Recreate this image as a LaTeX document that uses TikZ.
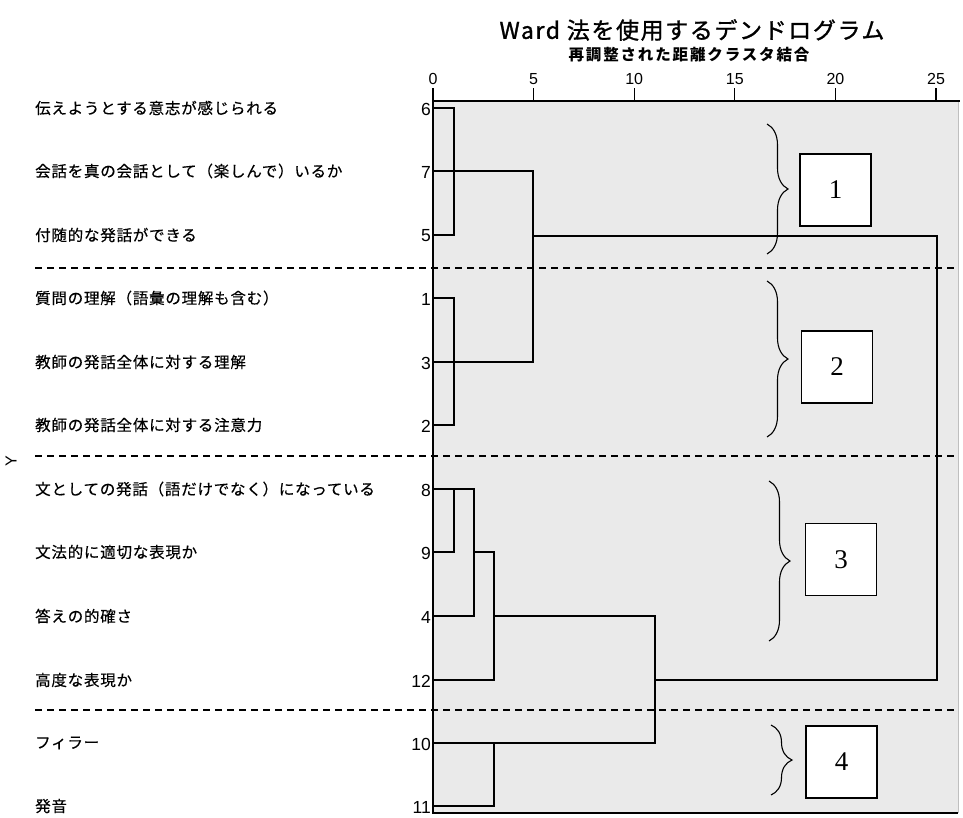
\documentclass[tikz,border=0pt]{standalone}
\usepackage{fontspec}
\setmainfont{Liberation Sans}
\newfontfamily\jplbl{Noto Sans CJK JP}[LetterSpace=5,FakeBold=0.4]
\newfontfamily\jpsub{Noto Sans CJK JP}[LetterSpace=12]
\newfontfamily\jptitle{Noto Sans CJK JP}[LetterSpace=7,FakeBold=1.2]
\newfontfamily\numserif{Liberation Serif}
\usetikzlibrary{decorations.pathreplacing}
\definecolor{plotbg}{RGB}{234,234,234}
\tikzset{
  lbl/.style={anchor=west, inner sep=0pt, font=\jplbl\fontsize{15.5}{17}\selectfont},
  rownum/.style={anchor=east, inner sep=0pt, font=\fontsize{17.5}{19}\selectfont},
  ticklbl/.style={anchor=south, inner sep=0pt, font=\fontsize{16}{18}\selectfont},
  dendro/.style={line width=1.8pt, line cap=rect},
  sep/.style={line width=1.1pt, dash pattern=on 7pt off 5pt},
  grp/.style={draw, line width=1.1pt, fill=white, minimum width=71pt, minimum height=72pt, inner sep=0pt, font=\numserif\fontsize{27}{29}\selectfont},
  bracedeco/.style={line width=1.1pt, decorate, decoration={brace, amplitude=21pt}}
}
\begin{document}
\begin{tikzpicture}[x=1pt,y=-1pt]
\useasboundingbox (0,0) rectangle (963,817);
\fill[white] (0,0) rectangle (963,817);
% plot area
\fill[plotbg] (433,101) rectangle (958,813);
\draw[gray!50, line width=0.8pt] (958,101) -- (958,813);
\draw[line width=1.8pt] (433,101) -- (960,101);
\draw[line width=1.8pt] (433,88) -- (433,813) -- (958,813);
% ticks and labels
\foreach \v in {5,10,15,20,25} {
  \draw[line width=1.3pt] ({433+\v*20.12},88) -- ({433+\v*20.12},101);
}
\foreach \v in {0,5,10,15,20,25} {
  \node[ticklbl] (t\v) at ({433+\v*20.12},85) {\v};
}
% titles
\node[inner sep=0pt, font=\jptitle\fontsize{23}{25}\selectfont] (title) at (692,30) {Ward 法を使用するデンドログラム};
\node[inner sep=0pt, font=\jpsub\bfseries\fontsize{15.5}{17}\selectfont] (sub) at (689,55) {再調整された距離クラスタ結合};
% row labels
\node[lbl] (l6) at (35,108) {伝えようとする意志が感じられる};
\node[lbl] (l7) at (35,171) {会話を真の会話として（楽しんで）いるか};
\node[lbl] (l5) at (35,235) {付随的な発話ができる};
\node[lbl] (l1) at (35,298) {質問の理解（語彙の理解も含む）};
\node[lbl] (l3) at (35,362) {教師の発話全体に対する理解};
\node[lbl] (l2) at (35,425) {教師の発話全体に対する注意力};
\node[lbl] (l8) at (35,489) {文としての発話（語だけでなく）になっている};
\node[lbl] (l9) at (35,552) {文法的に適切な表現か};
\node[lbl] (l4) at (35,616) {答えの的確さ};
\node[lbl] (l12) at (35,680) {高度な表現か};
\node[lbl] (l10) at (35,743) {フィラー};
\node[lbl] (l11) at (35,806) {発音};
% row numbers
\node[rownum] (n6) at (431,109) {6};
\node[rownum] (n7) at (431,172) {7};
\node[rownum] (n5) at (431,236) {5};
\node[rownum] (n1) at (431,299) {1};
\node[rownum] (n3) at (431,363) {3};
\node[rownum] (n2) at (431,426) {2};
\node[rownum] (n8) at (431,490) {8};
\node[rownum] (n9) at (431,553) {9};
\node[rownum] (n4) at (431,617) {4};
\node[rownum] (n12) at (431,681) {12};
\node[rownum] (n10) at (431,744) {10};
\node[rownum] (n11) at (431,807) {11};
\node[inner sep=0pt, rotate=90, font=\fontsize{16}{18}\selectfont] (yl) at (11,461) {Y};
% separators
\draw[sep] (35,268) -- (955,268);
\draw[sep] (35,456) -- (955,456);
\draw[sep] (35,710) -- (955,710);
% dendrogram
\draw[dendro] (433,108) -- (454,108) -- (454,235) -- (433,235);
\draw[dendro] (433,171) -- (533,171);
\draw[dendro] (433,298) -- (454,298) -- (454,425) -- (433,425);
\draw[dendro] (433,362) -- (533,362);
\draw[dendro] (533,171) -- (533,362);
\draw[dendro] (533,236) -- (937,236) -- (937,680) -- (655,680);
\draw[dendro] (433,489) -- (474,489) -- (474,616) -- (433,616);
\draw[dendro] (454,489) -- (454,552) -- (433,552);
\draw[dendro] (474,552) -- (494,552) -- (494,680) -- (433,680);
\draw[dendro] (494,616) -- (655,616) -- (655,743) -- (433,743);
\draw[dendro] (494,743) -- (494,806) -- (433,806);
% braces and group boxes
\draw[bracedeco] (767,124) -- (767,254);
\draw[bracedeco] (767,281) -- (767,437);
\draw[bracedeco] (769,481) -- (769,641);
\draw[bracedeco] (771,725) -- (771,795);
\node[grp] (g1) at (835.5,190) {1};
\node[grp] (g2) at (837,367) {2};
\node[grp] (g3) at (841,559.5) {3};
\node[grp] (g4) at (841.5,762) {4};
\end{tikzpicture}
\end{document}
